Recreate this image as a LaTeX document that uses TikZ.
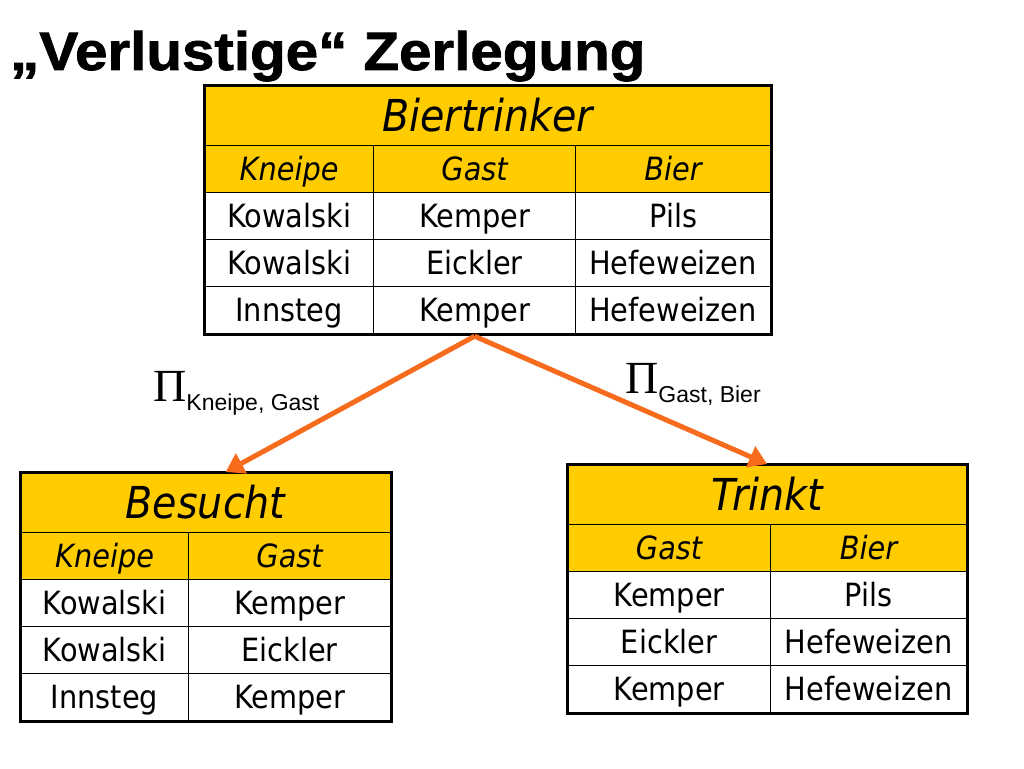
\documentclass[tikz,border=0pt]{standalone}
\usepackage{fontspec}
\setmainfont{DejaVu Sans}[FakeStretch=0.9]
\newfontfamily\headfont{Liberation Sans}[FakeStretch=1.08, BoldFeatures={FakeBold=1.5}]
\newfontfamily\subfont{Liberation Sans}
\newfontfamily\pifont{Liberation Serif}
\usetikzlibrary{arrows.meta, positioning}
\definecolor{tabyellow}{RGB}{255,204,0}
\definecolor{projorange}{RGB}{247,108,28}

\begin{document}
\begin{tikzpicture}[
    x=1pt, y=-1pt,
    tabtitle/.style={rectangle, draw, fill=tabyellow, line width=1.2pt, inner sep=0pt, anchor=north west, minimum height=60pt, font=\fontsize{44}{48}\selectfont\itshape, text height=38pt, text depth=6pt},
    tabhead/.style={rectangle, draw, fill=tabyellow, line width=1.2pt, inner sep=0pt, anchor=north west, minimum height=47pt, font=\fontsize{32}{36}\selectfont\itshape, text height=28pt, text depth=5pt},
    tabcell/.style={rectangle, draw, fill=white, line width=1.2pt, inner sep=0pt, anchor=north west, minimum height=47pt, font=\fontsize{32}{36}\selectfont, text height=28pt, text depth=5pt},
    frame/.style={draw, line width=3pt},
    proj/.style={-{Triangle[length=18pt, width=22pt]}, line width=5pt, color=projorange},
    projlabel/.style={anchor=base west, inner sep=0pt, font=\pifont\fontsize{46}{50}\selectfont}
]
\useasboundingbox[fill=white] (0,0) rectangle (1024,768);

% Title
\node[anchor=base west, inner sep=0pt, font=\headfont\bfseries\fontsize{54}{60}\selectfont] (title) at (10,70) {„Verlustige“ Zerlegung};

% Table: Biertrinker
\node[tabtitle, minimum width=566pt] (bt) at (204,85) {Biertrinker};
\node[tabhead, minimum width=169pt] (btK) at (204,145) {Kneipe};
\node[tabhead, minimum width=202pt] (btG) at (373,145) {Gast};
\node[tabhead, minimum width=195pt] (btB) at (575,145) {Bier};
\node[tabcell, minimum width=169pt] (bt11) at (204,192) {Kowalski};
\node[tabcell, minimum width=202pt] (bt12) at (373,192) {Kemper};
\node[tabcell, minimum width=195pt] (bt13) at (575,192) {Pils};
\node[tabcell, minimum width=169pt] (bt21) at (204,239) {Kowalski};
\node[tabcell, minimum width=202pt] (bt22) at (373,239) {Eickler};
\node[tabcell, minimum width=195pt] (bt23) at (575,239) {Hefeweizen};
\node[tabcell, minimum width=169pt] (bt31) at (204,286) {Innsteg};
\node[tabcell, minimum width=202pt] (bt32) at (373,286) {Kemper};
\node[tabcell, minimum width=195pt] (bt33) at (575,286) {Hefeweizen};
\draw[frame] (bt.north west) rectangle (bt33.south east);

% Table: Besucht
\node[tabtitle, minimum width=370pt] (bs) at (20,472) {Besucht};
\node[tabhead, minimum width=168pt] (bsK) at (20,532) {Kneipe};
\node[tabhead, minimum width=202pt] (bsG) at (188,532) {Gast};
\node[tabcell, minimum width=168pt] (bs11) at (20,579) {Kowalski};
\node[tabcell, minimum width=202pt] (bs12) at (188,579) {Kemper};
\node[tabcell, minimum width=168pt] (bs21) at (20,626) {Kowalski};
\node[tabcell, minimum width=202pt] (bs22) at (188,626) {Eickler};
\node[tabcell, minimum width=168pt] (bs31) at (20,673) {Innsteg};
\node[tabcell, minimum width=202pt] (bs32) at (188,673) {Kemper};
\draw[frame] (bs.north west) rectangle (bs32.south east);

% Table: Trinkt
\node[tabtitle, minimum width=399pt] (tr) at (567,464) {Trinkt};
\node[tabhead, minimum width=203pt] (trG) at (567,524) {Gast};
\node[tabhead, minimum width=196pt] (trB) at (770,524) {Bier};
\node[tabcell, minimum width=203pt] (tr11) at (567,571) {Kemper};
\node[tabcell, minimum width=196pt] (tr12) at (770,571) {Pils};
\node[tabcell, minimum width=203pt] (tr21) at (567,618) {Eickler};
\node[tabcell, minimum width=196pt] (tr22) at (770,618) {Hefeweizen};
\node[tabcell, minimum width=203pt] (tr31) at (567,665) {Kemper};
\node[tabcell, minimum width=196pt] (tr32) at (770,665) {Hefeweizen};
\draw[frame] (tr.north west) rectangle (tr32.south east);

% Projections
\draw[proj] ([yshift=-2pt]bt32.south) -- ([xshift=20pt]bs.north);
\draw[proj] ([yshift=-2pt]bt32.south) -- (tr.north);

\node[projlabel] (piKG) at (153,401) {Π\raisebox{-9pt}{\subfont\fontsize{23}{26}\selectfont Kneipe, Gast}};
\node[projlabel] (piGB) at (625,393) {Π\raisebox{-9pt}{\subfont\fontsize{23}{26}\selectfont Gast, Bier}};

\end{tikzpicture}
\end{document}
